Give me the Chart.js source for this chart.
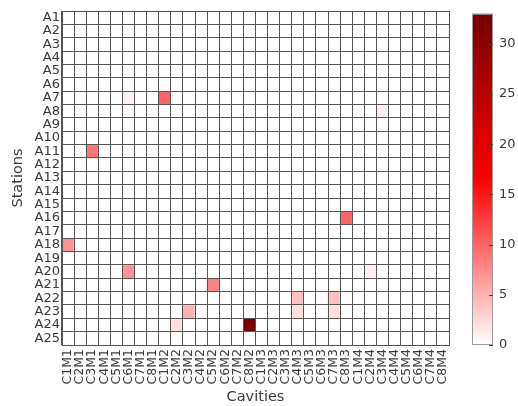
<!DOCTYPE html>
<html>
<head>
<meta charset="utf-8">
<script src="https://cdn.jsdelivr.net/npm/chart.js@4"></script>
<style>
  body { margin: 0; background: #fff; }
  #wrap { position: relative; width: 518px; height: 406px; }
  #heat { position: absolute; left: 0; top: 0; }
  #bar { position: absolute; left: 462px; top: 0; }
</style>
</head>
<body>
<div id="wrap">
  <canvas id="heat" width="462" height="406"></canvas>
  <canvas id="bar" width="56" height="406"></canvas>
</div>
<script>
const stations = ["A1", "A2", "A3", "A4", "A5", "A6", "A7", "A8", "A9", "A10",
    "A11", "A12", "A13", "A14", "A15", "A16", "A17", "A18", "A19", "A20",
    "A21", "A22", "A23", "A24", "A25"];

const cavities = ["C1M1", "C2M1", "C3M1", "C4M1", "C5M1", "C6M1", "C7M1", "C8M1",
    "C1M2", "C2M2", "C3M2", "C4M2", "C5M2", "C6M2", "C7M2", "C8M2",
    "C1M3", "C2M3", "C3M3", "C4M3", "C5M3", "C6M3", "C7M3", "C8M3",
    "C1M4", "C2M4", "C3M4", "C4M4", "C5M4", "C6M4", "C7M4", "C8M4"];

// non-zero cells only, everything else is 0
const hitStation = ["A7", "A7", "A8", "A11", "A16", "A18", "A20", "A20",
    "A21", "A22", "A22", "A23", "A23", "A23", "A24", "A24"];
const hitCavity = ["C6M1", "C1M2", "C3M4", "C3M1", "C8M3", "C1M1", "C6M1", "C2M4",
    "C5M2", "C4M3", "C7M3", "C3M2", "C4M3", "C7M3", "C2M2", "C8M2"];
const hitCount = [1, 10, 1, 9, 10, 7, 7, 1,
    8, 4, 4, 5, 2, 2, 2, 33];

const colorMax = 33;
const colorTicks = [0, 5, 10, 15, 20, 25, 30];

const textColor = "#3a3a3a";
const gridColor = "#555555";
const fontFamily = "'DejaVu Sans', sans-serif";

// white -> red -> dark red
function heatColor(v) {
    const t = Math.max(0, Math.min(1, v / colorMax));
    if (t <= 0.5) {
        const g = Math.round(255 * (1 - 2 * t));
        return `rgb(255, ${g}, ${g})`;
    }
    const r = Math.round(255 - (255 - 118) * (2 * t - 1));
    return `rgb(${r}, 0, 0)`;
}

function cellValue(station, cavity) {
    for (let i = 0; i < hitStation.length; i++) {
        if (hitStation[i] === station && hitCavity[i] === cavity) return hitCount[i];
    }
    return 0;
}

const rowDatasets = stations.map((station, row) => ({
    label: station,
    data: cavities.map((cavity) => ({ x: cavity, y: [row, row + 1], v: cellValue(station, cavity) })),
    backgroundColor: (ctx) => heatColor(ctx.raw ? ctx.raw.v : 0),
}));

new Chart(document.getElementById("heat"), {
    type: "bar",
    data: { labels: cavities, datasets: rowDatasets },
    options: {
        responsive: false,
        animation: false,
        layout: { padding: { top: 11, right: 1, bottom: 0, left: 0 } },
        datasets: {
            bar: { grouped: false, barPercentage: 1, categoryPercentage: 1, borderWidth: 0 }
        },
        plugins: { legend: { display: false }, tooltip: { enabled: false } },
        scales: {
            x: {
                type: "category",
                offset: true,
                grid: { z: 1, offset: true, color: gridColor, lineWidth: 1, drawTicks: false },
                border: { z: 1, color: gridColor },
                ticks: {
                    color: textColor,
                    font: { family: fontFamily, size: 12.5 },
                    minRotation: 90,
                    maxRotation: 90,
                    autoSkip: false,
                    padding: 4
                },
                title: {
                    display: true,
                    text: "Cavities",
                    color: textColor,
                    font: { family: fontFamily, size: 14.5 },
                    padding: { top: 4, bottom: 0 }
                },
                afterFit: (s) => { s.height = 61; }
            },
            y: {
                type: "linear",
                reverse: true,
                min: 0,
                max: stations.length,
                weight: 0,
                ticks: { display: false, stepSize: 1 },
                grid: { z: 1, color: gridColor, lineWidth: 1, drawTicks: false },
                border: { z: 1, color: gridColor },
                afterFit: (s) => { s.width = 0; }
            },
            rows: {
                type: "category",
                position: "left",
                labels: stations,
                offset: true,
                weight: 1,
                grid: { display: false, drawTicks: false },
                border: { display: false },
                ticks: {
                    color: textColor,
                    font: { family: fontFamily, size: 13 },
                    autoSkip: false,
                    padding: 2
                },
                title: {
                    display: true,
                    text: "Stations",
                    color: textColor,
                    font: { family: fontFamily, size: 14.5 },
                    padding: { top: 10, bottom: 0 }
                },
                afterFit: (s) => { s.width = 62; }
            }
        }
    }
});

// colour bar: gradient box on its own chart, ticks from a linear scale
const colorBarFill = {
    id: "colorBarFill",
    beforeDraw(chart) {
        const { ctx, chartArea: a } = chart;
        const scale = chart.scales.y;
        const grad = ctx.createLinearGradient(0, scale.getPixelForValue(0), 0, scale.getPixelForValue(colorMax));
        grad.addColorStop(0, heatColor(0));
        grad.addColorStop(0.5, heatColor(colorMax / 2));
        grad.addColorStop(1, heatColor(colorMax));
        ctx.save();
        ctx.fillStyle = grad;
        ctx.fillRect(a.left, a.top, a.right - a.left, a.bottom - a.top);
        ctx.restore();
    },
    afterDraw(chart) {
        const { ctx, chartArea: a } = chart;
        const scale = chart.scales.y;
        ctx.save();
        ctx.strokeStyle = "#9a9a9a";
        ctx.lineWidth = 1;
        ctx.strokeRect(a.left + 0.5, a.top + 0.5, a.right - a.left - 1, a.bottom - a.top - 1);
        ctx.strokeStyle = "#444";
        colorTicks.forEach((v) => {
            const y = Math.round(scale.getPixelForValue(v)) + 0.5;
            ctx.beginPath();
            ctx.moveTo(a.right - 4, y);
            ctx.lineTo(a.right, y);
            ctx.stroke();
        });
        ctx.restore();
    }
};

new Chart(document.getElementById("bar"), {
    type: "scatter",
    data: { datasets: [{ data: [] }] },
    options: {
        responsive: false,
        animation: false,
        layout: { padding: { top: 12, right: 0, bottom: 61, left: 10 } },
        plugins: { legend: { display: false }, tooltip: { enabled: false } },
        scales: {
            x: { display: false, min: 0, max: 1 },
            y: {
                position: "right",
                min: 0,
                max: colorMax,
                afterBuildTicks: (s) => { s.ticks = colorTicks.map((v) => ({ value: v })); },
                grid: { display: false, drawTicks: false },
                border: { display: false },
                ticks: {
                    color: textColor,
                    font: { family: fontFamily, size: 13 },
                    padding: 6
                },
                afterFit: (s) => { s.width = 25; }
            }
        }
    },
    plugins: [colorBarFill]
});
</script>
</body>
</html>
